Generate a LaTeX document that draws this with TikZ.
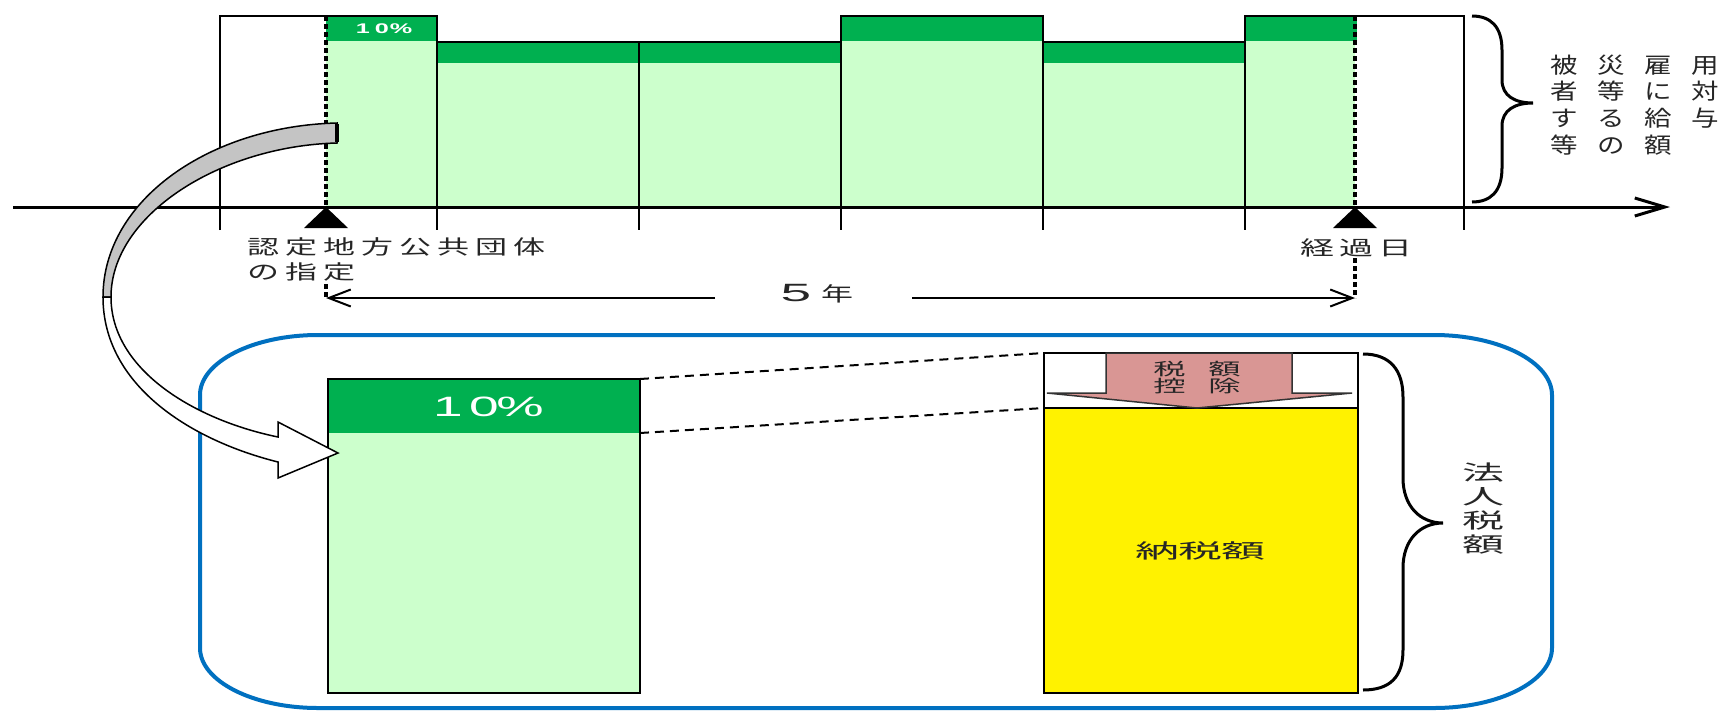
\documentclass[tikz,border=0pt]{standalone}
\usepackage{fontspec}
\usepackage{graphicx}
\usetikzlibrary{arrows.meta}
\newfontfamily\jp{Noto Sans CJK JP}
\newfontfamily\arialf{Liberation Sans}
\definecolor{dgreen}{HTML}{00B050}
\definecolor{lgreen}{HTML}{CCFFCC}
\definecolor{pinkc}{HTML}{D99694}
\definecolor{bluec}{HTML}{0070C0}
\definecolor{grayc}{HTML}{C4C4C4}
\definecolor{txt}{HTML}{262626}
\ExplSyntaxOn
\NewDocumentCommand\spaced{mmm}{\tl_map_inline:nn{#3}{\makebox[#1]{\scalebox{#2}[1]{##1}}}}
\ExplSyntaxOff
\tikzset{
  bar/.style={draw=black, line width=1.5pt},
  dotline/.style={draw=black, line width=3.5pt, dash pattern=on 5pt off 3pt},
  axisline/.style={draw=black, line width=3pt, -{Straight Barb[length=30pt,width=18pt,line width=3pt]}},
  dimline/.style={draw=black, line width=2pt, -{Straight Barb[length=22pt,width=17pt,line width=2pt]}},
  dashline/.style={draw=black, line width=2pt, dash pattern=on 9pt off 6pt},
  brace/.style={draw=black, line width=3pt},
  jtext/.style={font=\jp\fontsize{20pt}{24pt}\selectfont, text=txt},
  wtext/.style={font=\jp\fontsize{22pt}{24pt}\selectfont, text=txt, anchor=west},
}
\begin{document}
\begin{tikzpicture}[x=1pt,y=-1pt, every node/.style={inner sep=0pt, outer sep=0pt}]
\useasboundingbox[fill=white] (0,0) rectangle (1725,713);

% ---------- top chart fills ----------
\fill[lgreen] (326,41) rectangle (437,207);  \fill[dgreen] (326,16) rectangle (437,41);
\fill[lgreen] (437,63) rectangle (639,207);  \fill[dgreen] (437,42) rectangle (639,63);
\fill[lgreen] (639,63) rectangle (841,207);  \fill[dgreen] (639,42) rectangle (841,63);
\fill[lgreen] (841,41) rectangle (1043,207); \fill[dgreen] (841,16) rectangle (1043,41);
\fill[lgreen] (1043,63) rectangle (1245,207);\fill[dgreen] (1043,42) rectangle (1245,63);
\fill[lgreen] (1245,41) rectangle (1355,207);\fill[dgreen] (1245,16) rectangle (1357,41);

% ---------- top chart outlines ----------
\draw[bar] (220,230) -- (220,16) -- (437,16) -- (437,230);
\draw[bar] (437,42) -- (639,42) -- (639,230);
\draw[bar] (639,42) -- (841,42) -- (841,16) -- (1043,16) -- (1043,230);
\draw[bar] (841,16) -- (841,230);
\draw[bar] (1043,42) -- (1245,42) -- (1245,16) -- (1464,16) -- (1464,230);
\draw[bar] (1245,16) -- (1245,230);

\node[font=\arialf\bfseries\fontsize{14pt}{14pt}\selectfont, text=white] (pct1) at (382,29) {\spaced{19pt}{1.8}{10\%}};

% dotted lines
\coordinate (sA) at (326,16);
\coordinate (sB) at (1355,16);
\coordinate (aA) at (326,207);
\coordinate (aB) at (1355,207);
\draw[dotline] (sA) -- (aA);
\draw[dotline] (sB) -- (aB);

% axis
\coordinate (ax0) at (13,207);
\coordinate (ax1) at (1670,207);
\draw[axisline] (ax0) -- (ax1);

% triangles
\fill[black] (aA) -- (304,228) -- (348,228) -- cycle;
\fill[black] (aB) -- (1333,228) -- (1377,228) -- cycle;

% labels
\node[jtext, anchor=west] (start1) at (244,247) {\spaced{38pt}{1.6}{認定地方公共団体}};
\node[jtext, anchor=west] (start2) at (244,272) {\spaced{38pt}{1.6}{の指定}};
\node[jtext] (elapsed) at (1356,248) {\spaced{39pt}{1.7}{経過日}};

% 5 years dimension
\node[jtext] (five) at (817,294) {\makebox[40pt]{\arialf\fontsize{25pt}{25pt}\selectfont\scalebox{2.2}[1]{5}}\makebox[42pt]{\scalebox{1.6}[1]{年}}};
\coordinate (fL) at (326,298);
\coordinate (fR) at (1355,298);
\coordinate (gL) at (715,298);
\coordinate (gR) at (912,298);
\draw[dimline] (gL) -- (fL);
\draw[dimline] (gR) -- (fR);
\draw[dotline] (326,284) -- (fL);
\draw[dotline] (1355,258) -- (fR);

% top brace + label
\draw[brace] (1472,16) .. controls (1490,16) and (1502,26) .. (1502,50) -- (1502,80)
  .. controls (1502,96) and (1515,103) .. (1533,103)
  .. controls (1515,103) and (1502,110) .. (1502,126) -- (1502,168)
  .. controls (1502,192) and (1490,202) .. (1472,202);
\node[wtext] (wages1) at (1541,65) {\spaced{47pt}{1.25}{被災雇用}};
\node[wtext] (wages2) at (1541,91) {\spaced{47pt}{1.25}{者等に対}};
\node[wtext] (wages3) at (1541,118) {\spaced{47pt}{1.25}{する給与}};
\node[wtext] (wages4) at (1541,145) {\spaced{47pt}{1.25}{等の額}};

% ---------- lower panel ----------
\draw[bluec, line width=4pt] (318,335) -- (1434,335)
  .. controls (1499,335) and (1552,362) .. (1552,395) -- (1552,648)
  .. controls (1552,681) and (1499,708) .. (1434,708) -- (318,708)
  .. controls (253,708) and (200,681) .. (200,648) -- (200,395)
  .. controls (200,362) and (253,335) .. (318,335) -- cycle;

% left bar
\fill[lgreen] (328,433) rectangle (640,693);
\fill[dgreen] (328,379) rectangle (640,433);
\draw[line width=1.5pt] (328,379) rectangle (640,693);
\node[font=\arialf\fontsize{28pt}{28pt}\selectfont, text=white] (pct2) at (484,407) {\spaced{36pt}{1.9}{10\%}};

% right box
\fill[yellow] (1044,408) rectangle (1358,693);
\draw[line width=1.5pt] (1044,353) rectangle (1358,693);
\draw[line width=1.5pt] (1044,408) -- (1358,408);
\node[jtext] (tax) at (1200,551) {\spaced{43pt}{2.2}{納税額}};

% dashed connectors
\coordinate (lb1) at (640,379);
\coordinate (lb2) at (640,433);
\coordinate (rb1) at (1044,353);
\coordinate (rb2) at (1044,408);
\draw[dashline] (lb1) -- (rb1);
\draw[dashline] (lb2) -- (rb2);

% pink deduction arrow
\draw[fill=pinkc, draw=black!80, line width=1.5pt] (1106,353) -- (1292,353) -- (1292,393) -- (1352,393)
  -- (1197,408) -- (1047,393) -- (1106,393) -- cycle;
\node[jtext, font=\jp\fontsize{17pt}{17pt}\selectfont] (deduct1) at (1197,369) {\spaced{55pt}{1.9}{税額}};
\node[jtext, font=\jp\fontsize{17pt}{17pt}\selectfont] (deduct2) at (1197,386) {\spaced{55pt}{1.9}{控除}};

% lower brace + label
\draw[brace] (1363,354) .. controls (1390,354) and (1403,370) .. (1403,397) -- (1403,478)
  .. controls (1403,506) and (1420,523) .. (1443,523)
  .. controls (1420,523) and (1403,540) .. (1403,568) -- (1403,650)
  .. controls (1403,677) and (1390,690) .. (1363,690);
\node[jtext, font=\jp\fontsize{21pt}{24pt}\selectfont, align=center] (corp) at (1483,509)
  {\scalebox{2.0}[1]{法}\\\scalebox{2.0}[1]{人}\\\scalebox{2.0}[1]{税}\\\scalebox{2.0}[1]{額}};

% ---------- curved arrow ----------
\coordinate (tailT) at (337,123);
\coordinate (tailB) at (337,143);
\coordinate (tipP) at (338,453);
\filldraw[fill=grayc, draw=black, line width=1.5pt] (tailT) .. controls (210,126) and (103,200) .. (103,297)
  -- (111,297) .. controls (111,215) and (220,146) .. (tailB) -- cycle;
\filldraw[fill=white, draw=black, line width=1.5pt] (103,297) .. controls (103,385) and (190,440) .. (278,462)
  -- (278,478) -- (tipP) -- (278,422) -- (278,437)
  .. controls (195,420) and (111,370) .. (111,297) -- cycle;
\draw[line width=4pt] ([yshift=-1pt]tailT) -- ([yshift=1pt]tailB);
\end{tikzpicture}
\end{document}
